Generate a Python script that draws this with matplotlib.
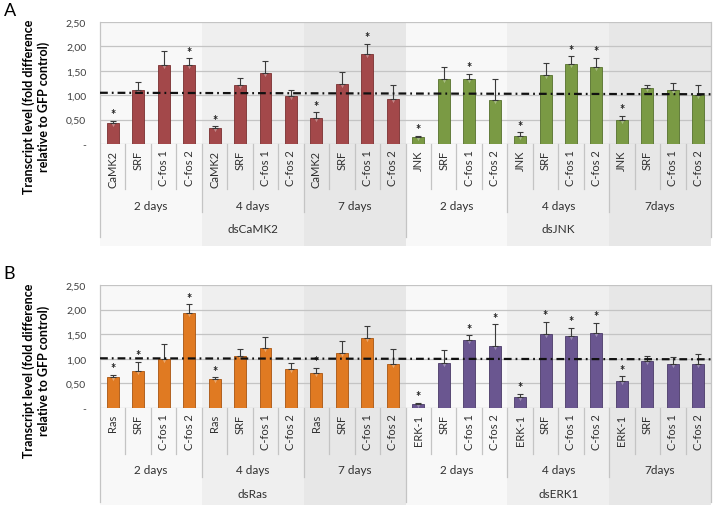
import matplotlib
matplotlib.use('Agg')
import matplotlib.pyplot as plt
import matplotlib.transforms as mtransforms
from matplotlib.patches import Rectangle
import numpy as np

plt.rcParams['font.family'] = ['Lato', 'DejaVu Sans']

# --- data ---------------------------------------------------------------
days = ['2 days', '4 days', '7 days', '2 days', '4 days', '7days']

genes_A = ['CaMK2', 'SRF', 'C-fos 1', 'C-fos 2'] * 3 + ['JNK', 'SRF', 'C-fos 1', 'C-fos 2'] * 3
knock_A = ['dsCaMK2', 'dsJNK']
vals_A = [0.43, 1.10, 1.61, 1.61, 0.32, 1.20, 1.46, 0.99, 0.53, 1.23, 1.84, 0.92,
          0.14, 1.33, 1.34, 0.91, 0.17, 1.42, 1.64, 1.58, 0.49, 1.14, 1.10, 1.01]
top_A = [0.48, 1.28, 1.90, 1.76, 0.36, 1.35, 1.71, 1.10, 0.65, 1.47, 2.05, 1.20,
         0.17, 1.58, 1.44, 1.34, 0.24, 1.66, 1.80, 1.77, 0.58, 1.21, 1.25, 1.21]
sig_A = [1, 0, 0, 1, 1, 0, 0, 0, 1, 0, 1, 0, 1, 0, 1, 0, 1, 0, 1, 1, 1, 0, 0, 0]
ref_A = [1.05, 1.02]

genes_B = ['Ras', 'SRF', 'C-fos 1', 'C-fos 2'] * 3 + ['ERK-1', 'SRF', 'C-fos 1', 'C-fos 2'] * 3
knock_B = ['dsRas', 'dsERK1']
vals_B = [0.62, 0.76, 1.00, 1.94, 0.58, 1.05, 1.21, 0.80, 0.71, 1.11, 1.43, 0.90,
          0.075, 0.91, 1.39, 1.26, 0.23, 1.50, 1.47, 1.53, 0.55, 0.96, 0.89, 0.90]
top_B = [0.68, 0.94, 1.30, 2.11, 0.62, 1.20, 1.45, 0.91, 0.82, 1.36, 1.66, 1.20,
         0.11, 1.17, 1.48, 1.70, 0.29, 1.75, 1.63, 1.73, 0.645, 1.05, 1.04, 1.10]
sig_B = [1, 1, 0, 1, 1, 0, 0, 0, 1, 0, 0, 0, 1, 0, 1, 1, 1, 1, 1, 1, 1, 0, 0, 0]
ref_B = [1.01, 0.99]

yticks = [0, 0.5, 1.0, 1.5, 2.0, 2.5]
ytick_labels = ['-', '0,50', '1,00', '1,50', '2,00', '2,50']

colors_A = ['#a3484a', '#7a9a44']
colors_B = ['#e07a22', '#6a5690']
edges_A = ['#7a2f30', '#55702c']
edges_B = ['#a85410', '#4a3a68']

band_cols = ['#f8f8f8', '#efefef', '#e7e7e7']
grid_col = '#c4c4c4'


def panel(ax, letter, genes, knock, vals, top, sig, ref, cols, edges):
    n = len(vals)
    x = np.arange(n)
    vals = np.array(vals)
    err = np.array(top) - vals
    trans = mtransforms.blended_transform_factory(ax.transData, ax.transAxes)

    ax.set_xlim(-0.5, n - 0.5)
    ax.set_ylim(0, 2.5)
    ax.set_facecolor('none')
    for s in ax.spines.values():
        s.set_visible(False)

    # background bands (extend into the category table)
    for g in range(6):
        ax.add_patch(Rectangle((g * 4 - 0.5, -0.84), 4, 1.84, transform=trans,
                               facecolor=band_cols[g % 3], edgecolor='none',
                               zorder=-5, clip_on=False))

    for yv in yticks:
        ax.axhline(yv, color=grid_col, lw=0.9, zorder=0)

    c = [cols[i // 12] for i in range(n)]
    e = [edges[i // 12] for i in range(n)]
    ax.bar(x, vals, width=0.47, color=c, edgecolor=e, lw=0.6, zorder=3)
    ax.scatter(x, vals - 0.04, marker='v', s=6, color='white', alpha=0.35,
               lw=0, zorder=4)
    ax.errorbar(x, vals, yerr=[np.zeros(n), err], fmt='none', ecolor='#3a3a3a',
                elinewidth=0.8, capsize=2.5, capthick=0.8, zorder=4)
    for i in range(n):
        if sig[i]:
            ax.text(x[i], top[i] + 0.01, '*', ha='center', va='bottom',
                    fontsize=9, fontweight='bold', color='#202020', zorder=5)

    ax.plot([-0.5, n - 0.5], ref, color='#111111', lw=1.6,
            linestyle=(0, (3.5, 1.8, 0.8, 1.8)), zorder=6, clip_on=False)

    ax.set_xticks([])
    ax.set_yticks(yticks)
    ax.set_yticklabels(ytick_labels, fontsize=7.5, color='#404040')
    ax.tick_params(axis='y', length=0, pad=10)

    # category table
    for i in range(n):
        ax.text(x[i], -0.045, genes[i], rotation=90, ha='center', va='top',
                fontsize=8, color='#303030', transform=trans, clip_on=False)
    for b in range(n + 1):
        xb = b - 0.5
        if b % 12 == 0:
            y0 = -0.765
        elif b % 4 == 0:
            y0 = -0.56
        else:
            y0 = -0.37
        top_y = 1.0 if b % 24 == 0 else 0.0
        ax.plot([xb, xb], [y0, top_y], color=grid_col, lw=0.9,
                transform=trans, clip_on=False, zorder=1)
    for g in range(6):
        ax.text(g * 4 + 1.5, -0.5, days[g], ha='center', va='center',
                fontsize=8.5, color='#303030', transform=trans)
    for k in range(2):
        ax.text(k * 12 + 5.5, -0.695, knock[k], ha='center', va='center',
                fontsize=8.5, color='#303030', transform=trans)

    ax.text(-0.105, 0.31, 'Transcript level (fold difference\nrelative to GFP control)',
            rotation=90, ha='center', va='center', fontsize=9, fontweight='bold',
            transform=ax.transAxes, linespacing=1.2)
    ax.text(-0.158, 1.03, letter, fontsize=13, transform=ax.transAxes,
            ha='left', va='bottom')


fig = plt.figure(figsize=(7.15, 5.06), dpi=100)
axA = fig.add_axes([0.1399, 0.7134, 0.8545, 0.2411])
axB = fig.add_axes([0.1399, 0.1917, 0.8545, 0.2431])

panel(axA, 'A', genes_A, knock_A, vals_A, top_A, sig_A, ref_A, colors_A, edges_A)
panel(axB, 'B', genes_B, knock_B, vals_B, top_B, sig_B, ref_B, colors_B, edges_B)

fig.savefig('out.png', dpi=100)
